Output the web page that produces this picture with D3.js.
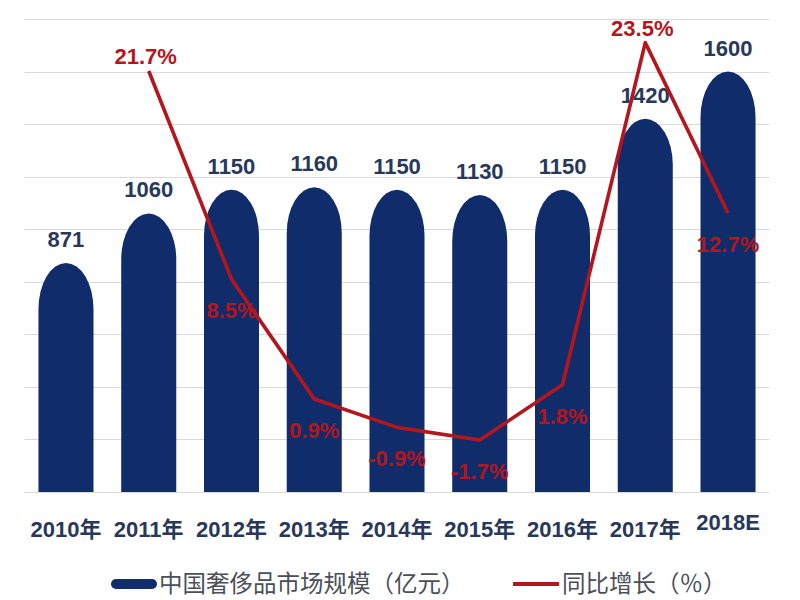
<!DOCTYPE html>
<html>
<head>
<meta charset="utf-8">
<script src="https://cdn.jsdelivr.net/npm/d3@7"></script>
<style>
  html, body { margin: 0; padding: 0; background: #ffffff; }
  svg { display: block; }
</style>
</head>
<body>
<svg id="chart" width="800" height="600"></svg>
<script>
// ---- data ----
const categories = ["2010年", "2011年", "2012年", "2013年", "2014年", "2015年", "2016年", "2017年", "2018E"];
const marketSize = [871, 1060, 1150, 1160, 1150, 1130, 1150, 1420, 1600];
const growthRate = [null, 21.7, 8.5, 0.9, -0.9, -1.7, 1.8, 23.5, 12.7];
const sizeTicks = [0, 200, 400, 600, 800, 1000, 1200, 1400, 1600, 1800];
const seriesNames = ["中国奢侈品市场规模（亿元）", "同比增长（％）"];

// ---- setup ----
(function () {
const svg = d3.select("#chart");
const W = 800, H = 600;
const pLeft = 24.6, pRight = 769.4, pTop = 19, pBottom = 492;
const navy = "#102c6b";
const red = "#b3161c";
const labelNavy = "#28385a";
const font = "'Liberation Sans', Arial, 'Noto Sans CJK SC', sans-serif";
const cjkFont = "'Noto Sans CJK SC', sans-serif";

svg.append("rect").attr("width", W).attr("height", H).attr("fill", "#fff");

const x = d3.scaleBand().domain(categories).range([pLeft, pRight])
  .paddingInner(0.335).paddingOuter(0.1675);
const y = d3.scaleLinear().domain([0, 1800]).range([pBottom, pTop]);
const y2 = d3.scaleLinear().domain([-5, 25]).range([pBottom, pTop]);

// gridlines
svg.append("g").selectAll("line").data(sizeTicks).join("line")
  .attr("x1", pLeft).attr("x2", pRight)
  .attr("y1", d => Math.round(y(d)) + 0.5).attr("y2", d => Math.round(y(d)) + 0.5)
  .attr("stroke", "#d9d9d9").attr("stroke-width", 1);

// bullet-shaped bars
const bw = x.bandwidth();
const ry = 46;
function bulletPath(d, i) {
  const x0 = x(categories[i]), x1 = x0 + bw;
  const yt = y(d), yb = y(0);
  const r = Math.min(ry, yb - yt);
  return `M${x0},${yb} L${x0},${yt + r} A${bw / 2},${r} 0 0 1 ${x1},${yt + r} L${x1},${yb} Z`;
}
svg.append("g").selectAll("path").data(marketSize).join("path")
  .attr("d", bulletPath)
  .attr("fill", navy);

// bar value labels
svg.append("g").selectAll("text").data(marketSize).join("text")
  .attr("x", (d, i) => x(categories[i]) + bw / 2)
  .attr("y", d => y(d) - 16)
  .attr("text-anchor", "middle")
  .attr("font-family", font).attr("font-size", 22).attr("font-weight", "bold")
  .attr("fill", labelNavy)
  .text(d => d);

// growth line
const pts = growthRate.map((v, i) => ({ v, c: categories[i], i }));
const line = d3.line()
  .defined(d => d.v !== null)
  .x(d => x(d.c) + bw / 2)
  .y(d => y2(d.v));
svg.append("path").datum(pts)
  .attr("d", line)
  .attr("fill", "none").attr("stroke", red).attr("stroke-width", 3.6)
  .attr("stroke-linejoin", "round");

// growth labels: above at local peaks, below otherwise
function isPeak(i) {
  const v = growthRate[i];
  const p = i > 0 && growthRate[i - 1] !== null ? growthRate[i - 1] : -Infinity;
  const n = i < growthRate.length - 1 ? growthRate[i + 1] : -Infinity;
  return v > p && v > n;
}
svg.append("g").selectAll("text").data(pts.filter(d => d.v !== null)).join("text")
  .attr("x", d => x(d.c) + bw / 2 - (isPeak(d.i) ? 3 : 0))
  .attr("y", d => isPeak(d.i) ? y2(d.v) - 7 : y2(d.v) + 39)
  .attr("text-anchor", "middle")
  .attr("font-family", font).attr("font-size", 22).attr("font-weight", "bold")
  .attr("fill", red)
  .text(d => d.v.toFixed(1) + "%");

// x axis labels
const xAxis = d3.axisBottom(x).tickSize(0).tickPadding(0);
const gx = svg.append("g").attr("transform", `translate(0,${pBottom})`).call(xAxis);
gx.select(".domain").remove();
gx.selectAll("text")
  .attr("y", d => /年/.test(d) ? 45 : 38).attr("dy", null)
  .attr("font-family", font).attr("font-size", 22).attr("font-weight", "bold")
  .attr("fill", labelNavy);

// legend
const lg = svg.append("g");
lg.append("rect").attr("x", 111).attr("y", 579).attr("width", 46).attr("height", 10)
  .attr("rx", 5).attr("fill", navy);
lg.append("text").attr("x", 159).attr("y", 582).attr("dominant-baseline", "central")
  .attr("font-family", cjkFont).attr("font-size", 23.5).attr("fill", "#4a4f5a")
  .text(seriesNames[0]);
lg.append("line").attr("x1", 513).attr("x2", 559).attr("y1", 584).attr("y2", 584)
  .attr("stroke", red).attr("stroke-width", 4);
lg.append("text").attr("x", 562).attr("y", 582).attr("dominant-baseline", "central")
  .attr("font-family", cjkFont).attr("font-size", 23.5).attr("fill", "#4a4f5a")
  .text(seriesNames[1]);
})();
</script>
</body>
</html>
